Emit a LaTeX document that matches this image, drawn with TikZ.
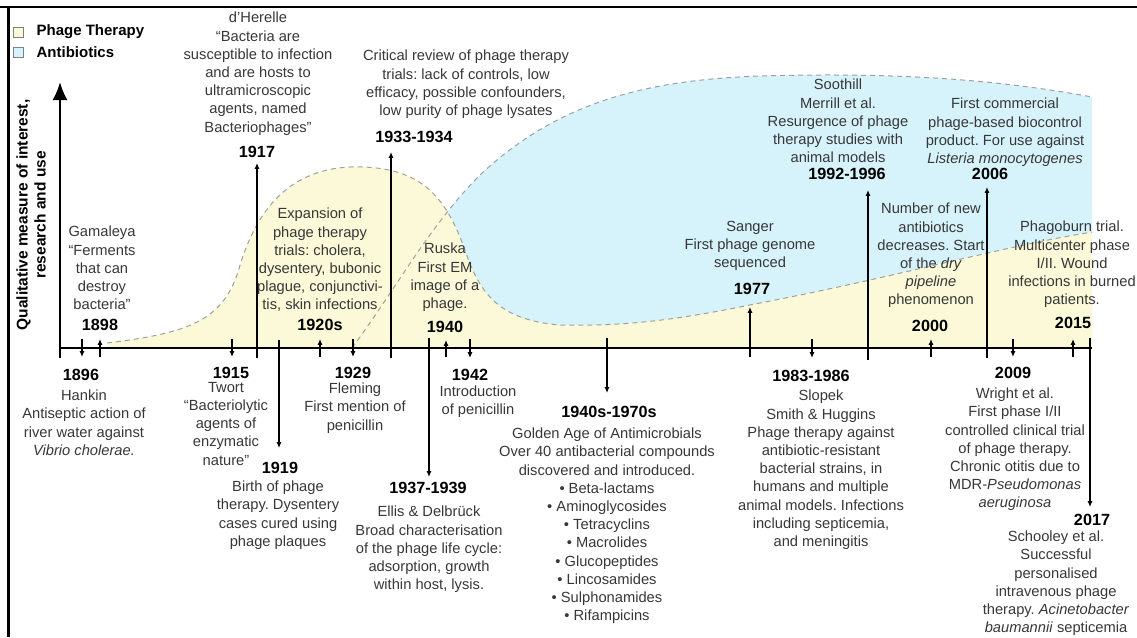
\documentclass[tikz,border=0pt]{standalone}
\usepackage{fontspec}
\setmainfont{Liberation Sans}
\usetikzlibrary{positioning,arrows.meta}
\frenchspacing
\definecolor{phageyellow}{RGB}{251,249,216}
\definecolor{abblue}{RGB}{214,243,252}
\definecolor{curvegray}{RGB}{160,160,160}
\definecolor{descgray}{RGB}{55,55,55}
\tikzset{
  yr/.style={font=\fontsize{16.2}{18}\selectfont\bfseries, inner sep=1pt},
  desc/.style={font=\fontsize{14.7}{18.2}\selectfont, text=descgray, align=center, inner sep=0pt},
  evarrow/.style={line width=1.8pt, -{Latex[length=6pt,width=5pt]}},
  curve/.style={draw=curvegray, line width=1pt, dash pattern=on 5pt off 4pt},
  legbox/.style={draw=gray, line width=0.8pt, minimum size=10pt, inner sep=0pt},
  legtext/.style={font=\fontsize{15}{18}\selectfont\bfseries, inner sep=0pt},
}
\begin{document}
\begin{tikzpicture}[x=1pt,y=-1pt]
\useasboundingbox (0,0) rectangle (1137,637);
% frame
\draw[line width=2.5pt] (0,7) -- (1137,7); \draw[line width=2.5pt] (8.5,6) -- (8.5,637);

% areas: antibiotics behind, phage therapy in front
\fill[abblue] (352,348) .. controls (395,290) and (430,225) .. (480,175) .. controls (560,100) and (650,80) .. (760,76) .. controls (900,72) and (1000,80) .. (1092,97) -- (1092,348) -- cycle;
\fill[phageyellow] (107,348) -- (107,343) .. controls (190,333) and (222,320) .. (238,272) .. controls (254,215) and (285,170) .. (350,167) .. controls (420,165) and (445,195) .. (465,250) .. controls (480,295) and (500,320) .. (560,325) .. controls (640,327) and (700,315) .. (760,303) .. controls (900,276) and (1000,247) .. (1092,232) -- (1092,348) -- cycle;
\draw[curve] (352,348) .. controls (395,290) and (430,225) .. (480,175) .. controls (560,100) and (650,80) .. (760,76) .. controls (900,72) and (1000,80) .. (1092,97);
\draw[curve] (107,343) .. controls (190,333) and (222,320) .. (238,272) .. controls (254,215) and (285,170) .. (350,167) .. controls (420,165) and (445,195) .. (465,250) .. controls (480,295) and (500,320) .. (560,325) .. controls (640,327) and (700,315) .. (760,303) .. controls (900,276) and (1000,247) .. (1092,232);

% axes
\draw[line width=2pt] (60,348) -- (1092,348);
\draw[line width=2.2pt, -{Latex[length=18pt,width=15pt]}] (60,358) -- (60,82);
\node[font=\fontsize{15.5}{18}\selectfont\bfseries, align=center, rotate=90, inner sep=0pt] (ylab) at (31,215) {Qualitative measure of interest,\\research and use};

% legend
\node[legbox, fill=phageyellow] (legpt) at (18,32) {}; \node[legtext, right=13pt of legpt] (legpttxt) {Phage Therapy};
\node[legbox, fill=abblue] (legab) at (18,52) {}; \node[legtext, right=13pt of legab] (legabtxt) {Antibiotics};

% events above the axis
\coordinate (a1898) at (100,357); \node[yr] (y1898) at (100,325) {1898};
\node[desc, anchor=north] (d1898) at (102,226) {Gamaleya\\“Ferments\\that can\\destroy\\bacteria”};
\draw[evarrow, shorten >=7pt] (a1898) -- (a1898 |- y1898.south);

\coordinate (a1917) at (257,358); \node[yr] (y1917) at (257,152) {1917};
\node[desc, anchor=north] (d1917) at (258,12) {d'Herelle\\“Bacteria are\\susceptible to infection\\and are hosts to\\ultramicroscopic\\agents, named\\Bacteriophages”};
\draw[evarrow, shorten >=4pt] (a1917) -- (a1917 |- y1917.south);

\coordinate (a1920) at (320,357); \node[yr] (y1920) at (320,325) {1920s};
\node[desc, anchor=north] (d1920) at (320,208) {Expansion of\\phage therapy\\trials: cholera,\\dysentery, bubonic\\plague, conjunctivi-\\tis, skin infections};
\draw[evarrow, shorten >=7pt] (a1920) -- (a1920 |- y1920.south);

\coordinate (a1933) at (391,358); \node[yr] (y1933) at (414,137) {1933-1934};
\node[desc, anchor=north] (d1933) at (466,50) {Critical review of phage therapy\\trials: lack of controls, low\\efficacy, possible confounders,\\low purity of phage lysates};
\draw[evarrow, shorten >=8pt] (a1933) -- (a1933 |- y1933.south);

\coordinate (a1940) at (446,357); \node[yr] (y1940) at (445,327) {1940};
\node[desc, anchor=north] (d1940) at (445,243) {Ruska\\First EM\\image of a\\phage.};
\draw[evarrow, shorten >=6pt] (a1940) -- (a1940 |- y1940.south);

\coordinate (a1977) at (750,357); \node[yr] (y1977) at (752,289) {1977};
\node[desc, anchor=north] (d1977) at (750,221) {Sanger\\First phage genome\\sequenced};
\draw[evarrow, shorten >=11pt] (a1977) -- (a1977 |- y1977.south);

\coordinate (a1992) at (868,360); \node[yr] (y1992) at (847,174) {1992-1996};
\node[desc, anchor=north] (d1992) at (838,79) {Soothill\\Merrill et al.\\Resurgence of phage\\therapy studies with\\animal models};
\draw[evarrow, shorten >=9pt] (a1992) -- (a1992 |- y1992.south);

\coordinate (a2000) at (931,357); \node[yr] (y2000) at (930,326) {2000};
\node[desc, anchor=north] (d2000) at (931,203) {Number of new\\antibiotics\\decreases. Start\\of the \textit{dry}\\\textit{pipeline}\\phenomenon};
\draw[evarrow, shorten >=6pt] (a2000) -- (a2000 |- y2000.south);

\coordinate (a2006) at (987,358); \node[yr] (y2006) at (990,174) {2006};
\node[desc, anchor=north] (d2006) at (1005,98) {First commercial\\phage-based biocontrol\\product. For use against\\\textit{Listeria monocytogenes}};
\draw[evarrow, shorten >=6pt] (a2006) -- (a2006 |- y2006.south);

\coordinate (a2015) at (1073,357); \node[yr] (y2015) at (1073,323) {2015};
\node[desc, anchor=north] (d2015) at (1072,221) {Phagoburn trial.\\Multicenter phase\\I/II. Wound\\infections in burned\\patients.};
\draw[evarrow, shorten >=9pt] (a2015) -- (a2015 |- y2015.south);

% events below the axis
\coordinate (a1896) at (82,339); \node[yr] (y1896) at (81,375) {1896};
\node[desc, anchor=north, below=8pt of y1896, xshift=3pt] (d1896) {Hankin\\Antiseptic action of\\river water against\\\textit{Vibrio cholerae.}};
\draw[evarrow, shorten >=11pt] (a1896) -- (a1896 |- y1896.north);

\coordinate (a1915) at (232,339); \node[yr] (y1915) at (231,373) {1915};
\node[desc, below=2pt of y1915, xshift=-5pt] (d1915) {Twort\\“Bacteriolytic\\agents of\\enzymatic\\nature”};
\draw[evarrow, shorten >=9pt] (a1915) -- (a1915 |- y1915.north);

\coordinate (a1919) at (279,340); \node[yr] (y1919) at (280,468) {1919};
\node[desc, below=6pt of y1919, xshift=-2pt] (d1919) {Birth of phage\\therapy. Dysentery\\cases cured using\\phage plaques};
\draw[evarrow, shorten >=13pt] (a1919) -- (a1919 |- y1919.north);

\coordinate (a1929) at (353,339); \node[yr] (y1929) at (353,373) {1929};
\node[desc, below=3pt of y1929, xshift=2pt] (d1929) {Fleming\\First mention of\\penicillin};
\draw[evarrow, shorten >=9pt] (a1929) -- (a1929 |- y1929.north);

\coordinate (a1937) at (429,338); \node[yr] (y1937) at (428,488) {1937-1939};
\node[desc, below=11pt of y1937, xshift=1pt] (d1937) {Ellis \& Delbrück\\Broad characterisation\\of the phage life cycle:\\adsorption, growth\\within host, lysis.};
\draw[evarrow, shorten >=4pt] (a1937) -- (a1937 |- y1937.north);

\coordinate (a1942) at (470,339); \node[yr] (y1942) at (470,375) {1942};
\node[desc, below=4pt of y1942, xshift=8pt] (d1942) {Introduction\\of penicillin};
\draw[evarrow, shorten >=10pt] (a1942) -- (a1942 |- y1942.north);

\coordinate (a1940s) at (607,338); \node[yr] (y1940s) at (609,412) {1940s-1970s};
\node[desc, below=9pt of y1940s, xshift=-2pt] (d1940s) {Golden Age of Antimicrobials\\Over 40 antibacterial compounds\\discovered and introduced.\\• Beta-lactams\\• Aminoglycosides\\• Tetracyclins\\• Macrolides\\• Glucopeptides\\• Lincosamides\\• Sulphonamides\\• Rifampicins};
\draw[evarrow, shorten >=12pt] (a1940s) -- (a1940s |- y1940s.north);

\coordinate (a1983) at (812,339); \node[yr] (y1983) at (811,376) {1983-1986};
\node[desc, below=7pt of y1983, xshift=10pt] (d1983) {Slopek\\Smith \& Huggins\\Phage therapy against\\antibiotic-resistant\\bacterial strains, in\\humans and multiple\\animal models. Infections\\including septicemia,\\and meningitis};
\draw[evarrow, shorten >=11pt] (a1983) -- (a1983 |- y1983.north);

\coordinate (a2009) at (1013,339); \node[yr] (y2009) at (1013,373) {2009};
\node[desc, below=8pt of y2009, xshift=2pt] (d2009) {Wright et al.\\First phase I/II\\controlled clinical trial\\of phage therapy.\\Chronic otitis due to\\MDR-\textit{Pseudomonas}\\\textit{aeruginosa}};
\draw[evarrow, shorten >=9pt] (a2009) -- (a2009 |- y2009.north);

\coordinate (a2017) at (1090,338); \node[yr] (y2017) at (1092,520) {2017};
\node[desc, below=4pt of y2017, xshift=-36pt] (d2017) {Schooley et al.\\Successful\\personalised\\intravenous phage\\therapy. \textit{Acinetobacter}\\\textit{baumannii} septicemia};
\draw[evarrow, shorten >=6pt] (a2017) -- (a2017 |- y2017.north);
\end{tikzpicture}
\end{document}
